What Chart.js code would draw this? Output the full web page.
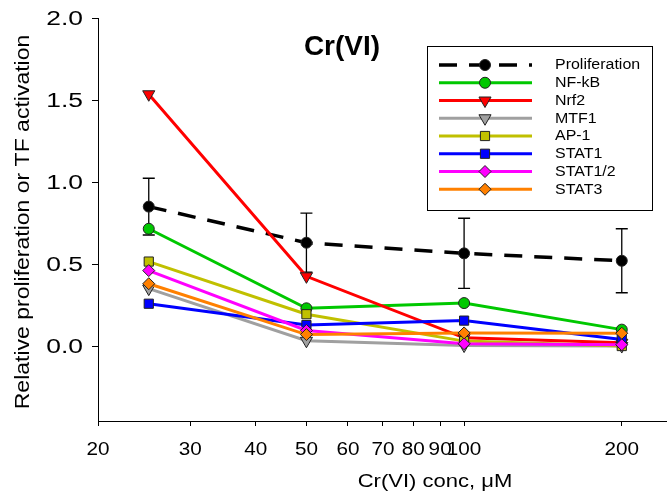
<!DOCTYPE html>
<html>
<head>
<meta charset="utf-8">
<script src="https://cdn.jsdelivr.net/npm/chart.js@4"></script>
<style>
  body { margin: 0; background: #fff; }
  canvas { display: block; }
</style>
</head>
<body>
<canvas id="chart" width="667" height="498"></canvas>
<script>
// concentrations (uM)
const concs = [25, 50, 100, 200];
const xTicks = [20, 30, 40, 50, 60, 70, 80, 90, 100, 200];
const yTicks = [0, 0.5, 1.0, 1.5, 2.0];

const proliferation = [0.85, 0.63, 0.565, 0.52];
const proliferationErr = [0.173, 0.18, 0.214, 0.195];
const nfkb = [0.715, 0.23, 0.262, 0.10];
const nrf2 = [1.535, 0.425, 0.05, 0.02];
const mtf1 = [0.35, 0.032, 0.003, 0.0];
const ap1 = [0.515, 0.194, 0.03, 0.0];
const stat1 = [0.258, 0.128, 0.155, 0.04];
const stat12 = [0.46, 0.095, 0.014, 0.008];
const stat3 = [0.38, 0.07, 0.08, 0.078];

const FONT = "'Liberation Sans', Arial, sans-serif";

const pts = arr => arr.map((v, i) => ({ x: concs[i], y: v }));

function series(label, values, color, style, radius, extra) {
  return Object.assign({
    label: label,
    data: pts(values),
    borderColor: color,
    backgroundColor: color,
    borderWidth: 3,
    pointStyle: style,
    pointRadius: radius,
    pointBorderColor: '#222',
    pointBorderWidth: 1,
    pointRotation: 0,
    tension: 0,
    clip: false
  }, extra || {});
}

const datasets = [
  series('Proliferation', proliferation, '#000000', 'circle', 5.5, { borderDash: [18, 12], borderWidth: 3.5 }),
  series('NF-kB', nfkb, '#00c800', 'circle', 5.5),
  series('Nrf2', nrf2, '#ff0000', 'triangle', 7, { pointRotation: 180 }),
  series('MTF1', mtf1, '#a0a0a0', 'triangle', 7, { pointRotation: 180 }),
  series('AP-1', ap1, '#c0c000', 'rect', 6.5),
  series('STAT1', stat1, '#0000ff', 'rect', 6.5),
  series('STAT1/2', stat12, '#ff00ff', 'rectRot', 6),
  series('STAT3', stat3, '#ff8000', 'rectRot', 6)
];
// later series drawn on top
datasets.forEach((d, i) => { d.order = datasets.length - i; });

// text drawn a bit wider than the font, like the original export
function wideText(ctx, text, x, y, sx, sy) {
  ctx.save();
  ctx.translate(x, y);
  ctx.scale(sx, sy || 1);
  ctx.fillText(text, 0, 0);
  ctx.restore();
}

const errorBars = {
  id: 'errorBars',
  beforeDatasetsDraw(chart) {
    const { ctx, scales: { x, y } } = chart;
    ctx.save();
    ctx.strokeStyle = '#000';
    ctx.lineWidth = 1.3;
    concs.forEach((c, i) => {
      const px = x.getPixelForValue(c);
      const top = y.getPixelForValue(proliferation[i] + proliferationErr[i]);
      const bot = y.getPixelForValue(proliferation[i] - proliferationErr[i]);
      ctx.beginPath();
      ctx.moveTo(px, top); ctx.lineTo(px, bot);
      ctx.moveTo(px - 6, top); ctx.lineTo(px + 6, top);
      ctx.moveTo(px - 6, bot); ctx.lineTo(px + 6, bot);
      ctx.stroke();
    });
    ctx.restore();
  }
};

const texts = {
  id: 'texts',
  afterDraw(chart) {
    const { ctx, scales: { x, y } } = chart;
    ctx.save();
    ctx.fillStyle = '#000';

    // tick labels
    ctx.font = '18px ' + FONT;
    ctx.textAlign = 'center';
    ctx.textBaseline = 'alphabetic';
    xTicks.forEach(v => wideText(ctx, String(v), x.getPixelForValue(v), 454.5, 1.15));
    ctx.font = '20px ' + FONT;
    ctx.textAlign = 'right';
    ctx.textBaseline = 'middle';
    yTicks.forEach(v => wideText(ctx, v.toFixed(1), 83, y.getPixelForValue(v) + 1, 1.32));

    ctx.font = 'bold 28px ' + FONT;
    ctx.textAlign = 'center';
    ctx.textBaseline = 'alphabetic';
    ctx.fillText('Cr(VI)', 342, 55);

    ctx.font = '18.5px ' + FONT;
    wideText(ctx, 'Cr(VI) conc, \u03bcM', 435, 486.5, 1.19);

    ctx.save();
    ctx.font = '23px ' + FONT;
    ctx.translate(24, 222);
    ctx.rotate(-Math.PI / 2);
    ctx.textBaseline = 'middle';
    wideText(ctx, 'Relative proliferation or TF activation', 0, 0, 1, 0.85);
    ctx.restore();

    // legend
    ctx.strokeStyle = '#000';
    ctx.lineWidth = 1;
    ctx.strokeRect(427.5, 46.5, 225, 164);
    ctx.font = '14px ' + FONT;
    ctx.textAlign = 'left';
    ctx.textBaseline = 'middle';
    chart.data.datasets.forEach((d, i) => {
      const yy = 65 + i * 17.75;
      ctx.save();
      ctx.strokeStyle = d.borderColor;
      ctx.lineWidth = d.borderWidth;
      ctx.setLineDash(d.borderDash || []);
      ctx.beginPath();
      ctx.moveTo(439, yy); ctx.lineTo(532, yy);
      ctx.stroke();
      ctx.setLineDash([]);
      ctx.fillStyle = d.backgroundColor;
      ctx.strokeStyle = d.pointBorderColor;
      ctx.lineWidth = d.pointBorderWidth;
      Chart.helpers.drawPoint(ctx, {
        pointStyle: d.pointStyle,
        rotation: d.pointRotation,
        radius: d.pointRadius,
        borderWidth: d.pointBorderWidth
      }, 485, yy);
      ctx.restore();
      wideText(ctx, d.label, 555, yy + 0.5, 1.14);
    });
    ctx.restore();
  }
};

new Chart(document.getElementById('chart'), {
  type: 'line',
  data: { datasets: datasets },
  options: {
    responsive: false,
    animation: false,
    devicePixelRatio: 1,
    layout: { autoPadding: false, padding: { top: 18, right: 0, left: 0, bottom: 0 } },
    plugins: { legend: { display: false }, tooltip: { enabled: false } },
    scales: {
      x: {
        type: 'logarithmic',
        min: 20,
        max: 244,
        afterBuildTicks: s => { s.ticks = xTicks.map(v => ({ value: v })); },
        afterFit: s => { s.height = 77; },
        grid: { display: true, drawOnChartArea: false, drawTicks: true, tickLength: 5, color: '#000', lineWidth: 1 },
        border: { display: true, color: '#000', width: 1 },
        ticks: { display: false, autoSkip: false, maxRotation: 0 }
      },
      y: {
        type: 'linear',
        min: -0.457,
        max: 2.0,
        afterBuildTicks: s => { s.ticks = yTicks.map(v => ({ value: v })); },
        afterFit: s => { s.width = 98; },
        grid: { display: true, drawOnChartArea: false, drawTicks: true, tickLength: 6, color: '#000', lineWidth: 1 },
        border: { display: true, color: '#000', width: 1 },
        ticks: { display: false }
      }
    }
  },
  plugins: [errorBars, texts]
});
</script>
</body>
</html>
